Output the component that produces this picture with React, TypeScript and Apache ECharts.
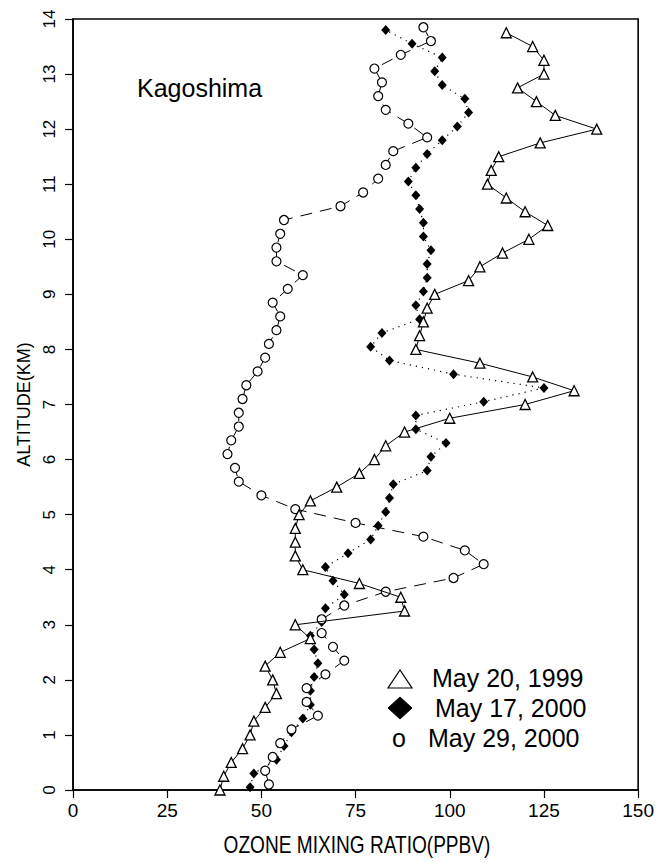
import React, { useEffect, useRef } from "react";
import * as echarts from "echarts";

// Altitude (km) of each sounding level
const altitude1999 = [0, 0.25, 0.5, 0.75, 1, 1.25, 1.5, 1.75, 2, 2.25, 2.5, 2.75, 3, 3.25, 3.5, 3.75, 4, 4.25, 4.5, 4.75, 5, 5.25, 5.5, 5.75, 6, 6.25, 6.5, 6.75, 7, 7.25, 7.5, 7.75, 8, 8.25, 8.5, 8.75, 9, 9.25, 9.5, 9.75, 10, 10.25, 10.5, 10.75, 11, 11.25, 11.5, 11.75, 12, 12.25, 12.5, 12.75, 13, 13.25, 13.5, 13.75];
const altitudeMay17 = [0.05, 0.3, 0.55, 0.8, 1.05, 1.3, 1.55, 1.8, 2.05, 2.3, 2.55, 2.8, 3.05, 3.3, 3.55, 3.8, 4.05, 4.3, 4.55, 4.8, 5.05, 5.3, 5.55, 5.8, 6.05, 6.3, 6.55, 6.8, 7.05, 7.3, 7.55, 7.8, 8.05, 8.3, 8.55, 8.8, 9.05, 9.3, 9.55, 9.8, 10.05, 10.3, 10.55, 10.8, 11.05, 11.3, 11.55, 11.8, 12.05, 12.3, 12.55, 12.8, 13.05, 13.3, 13.55, 13.8];
const altitudeMay29 = [0.1, 0.35, 0.6, 0.85, 1.1, 1.35, 1.6, 1.85, 2.1, 2.35, 2.6, 2.85, 3.1, 3.35, 3.6, 3.85, 4.1, 4.35, 4.6, 4.85, 5.1, 5.35, 5.6, 5.85, 6.1, 6.35, 6.6, 6.85, 7.1, 7.35, 7.6, 7.85, 8.1, 8.35, 8.6, 8.85, 9.1, 9.35, 9.6, 9.85, 10.1, 10.35, 10.6, 10.85, 11.1, 11.35, 11.6, 11.85, 12.1, 12.35, 12.6, 12.85, 13.1, 13.35, 13.6, 13.85];

// Ozone mixing ratio (ppbv)
const ozoneMay20_1999 = [39, 40, 42, 45, 47, 48, 51, 54, 53, 51, 55, 63, 59, 88, 87, 76, 61, 59, 59, 59, 60, 63, 70, 76, 80, 83, 88, 100, 120, 133, 122, 108, 91, 92, 93, 94, 96, 105, 108, 114, 121, 126, 120, 115, 110, 111, 113, 124, 139, 128, 123, 118, 125, 125, 122, 115];
const ozoneMay17_2000 = [47, 48, 54, 56, 58, 61, 63, 63, 64, 65, 64, 63, 66, 67, 72, 69, 67, 73, 79, 81, 83, 84, 85, 94, 95, 99, 91, 91, 109, 125, 101, 84, 79, 82, 92, 91, 93, 94, 94, 95, 93, 93, 92, 91, 89, 91, 94, 98, 102, 105, 104, 98, 96, 98, 90, 83];
const ozoneMay29_2000 = [52, 51, 53, 55, 58, 65, 62, 62, 67, 72, 69, 66, 66, 72, 83, 101, 109, 104, 93, 75, 59, 50, 44, 43, 41, 42, 44, 44, 45, 46, 49, 51, 52, 54, 55, 53, 57, 61, 54, 54, 55, 56, 71, 77, 81, 83, 85, 94, 89, 83, 81, 82, 80, 87, 95, 93];

const legendNames = ["May 20, 1999", "May 17, 2000", "May 29, 2000"];
const stationName = "Kagoshima";
const xTitle = "OZONE MIXING RATIO(PPBV)";
const yTitle = "ALTITUDE(KM)";

const FONT = "'Liberation Sans', Arial, Helvetica, sans-serif";

function pairs(xs: number[], ys: number[]) {
  return xs.map((v, i) => [v, ys[i]]);
}

function txt(text: string, x: number, y: number, fontSize: number, align = "left", extra: any = {}) {
  return {
    type: "text",
    x,
    y,
    ...extra,
    style: {
      text,
      fontSize,
      fontFamily: FONT,
      fill: "#000",
      align,
      verticalAlign: "middle",
      textAlign: align,
      textVerticalAlign: "middle",
    },
  };
}

export default function App() {
  const ref = useRef<HTMLDivElement>(null);
  useEffect(() => {
    if (!ref.current) return;
    const chart = echarts.init(ref.current, null, { renderer: "svg" });
    chart.setOption({
      animation: false,
      backgroundColor: "#fff",
      grid: {
        left: 73,
        top: 19,
        right: 16,
        bottom: 72,
        show: true,
        borderColor: "#000",
        borderWidth: 1.6,
        backgroundColor: "transparent",
      },
      xAxis: {
        type: "value",
        min: 0,
        max: 150,
        interval: 25,
        axisLine: { show: true, lineStyle: { color: "#000", width: 1.5 } },
        axisTick: { show: true, inside: false, length: 8, lineStyle: { color: "#000", width: 1.2 } },
        axisLabel: { color: "#000", fontSize: 19, fontFamily: FONT, margin: 11 },
        splitLine: { show: false },
      },
      yAxis: {
        type: "value",
        min: 0,
        max: 14,
        interval: 1,
        name: yTitle,
        nameLocation: "middle",
        nameGap: 39,
        nameRotate: 90,
        nameTextStyle: { color: "#000", fontSize: 18, fontFamily: FONT },
        axisLine: { show: true, lineStyle: { color: "#000", width: 1.5 } },
        axisTick: { show: true, inside: false, length: 8, lineStyle: { color: "#000", width: 1.2 } },
        axisLabel: { color: "#000", fontSize: 17, fontFamily: FONT, rotate: 90, margin: 15 },
        splitLine: { show: false },
      },
      series: [
        {
          name: legendNames[0],
          type: "line",
          data: pairs(ozoneMay20_1999, altitude1999),
          symbol: "triangle",
          symbolSize: 10,
          itemStyle: { color: "#fff", borderColor: "#000", borderWidth: 1.3 },
          lineStyle: { color: "#000", width: 1 },
          z: 3,
        },
        {
          name: legendNames[1],
          type: "line",
          data: pairs(ozoneMay17_2000, altitudeMay17),
          symbol: "diamond",
          symbolSize: [9, 10],
          itemStyle: { color: "#000", borderColor: "#000", borderWidth: 0 },
          lineStyle: { color: "#000", width: 1.2, type: [1.2, 5] },
          z: 2,
        },
        {
          name: legendNames[2],
          type: "line",
          data: pairs(ozoneMay29_2000, altitudeMay29),
          symbol: "circle",
          symbolSize: 9,
          itemStyle: { color: "#fff", borderColor: "#000", borderWidth: 1.2 },
          lineStyle: { color: "#000", width: 1, type: [12, 8] },
          z: 2,
        },
      ],
      graphic: [
        txt(stationName, 137, 88, 25),
        {
          type: "polygon",
          shape: { points: [[400, 670], [388, 688], [412, 688]] },
          style: { fill: "#fff", stroke: "#000", lineWidth: 1.2 },
        },
        txt(legendNames[0], 432, 678, 25),
        {
          type: "polygon",
          shape: { points: [[400, 697], [412, 708], [400, 719], [388, 708]] },
          style: { fill: "#000", stroke: "#000", lineWidth: 1 },
        },
        txt(legendNames[1], 435, 708, 25),
        txt("o", 399, 738, 25, "center"),
        txt(legendNames[2], 428, 738, 25),
        txt(xTitle, 357, 845, 23, "center", { scaleX: 0.83 }),
      ],
    });
    return () => chart.dispose();
  }, []);
  return (
    <div
      ref={ref}
      style={{ position: "absolute", left: 0, top: 0, width: 657, height: 862, background: "#fff" }}
    />
  );
}
